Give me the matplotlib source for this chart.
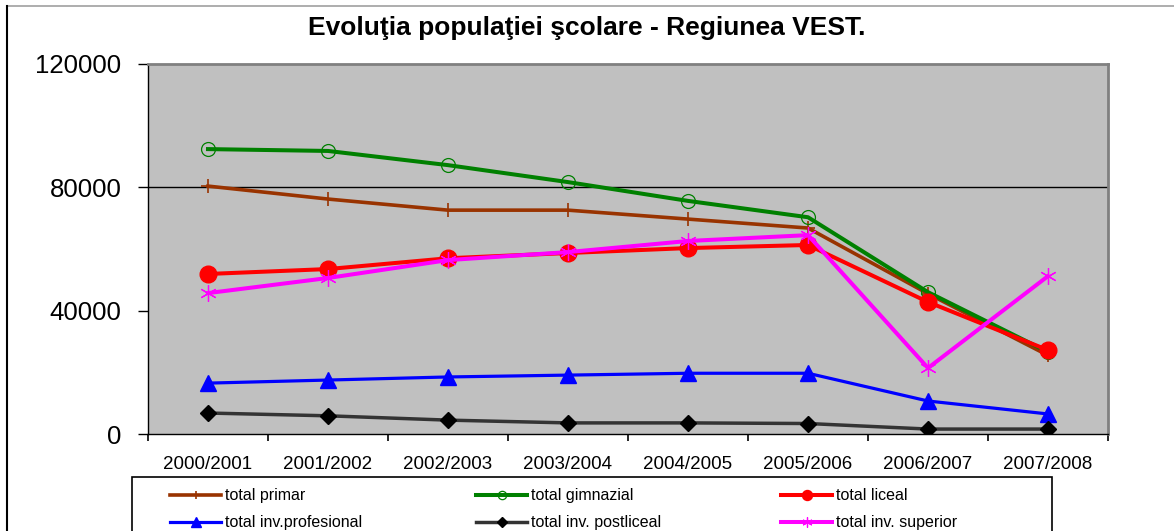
import matplotlib
matplotlib.use('Agg')
import matplotlib.pyplot as plt
from matplotlib.patches import Rectangle
from matplotlib.lines import Line2D
import numpy as np

plt.rcParams['font.family'] = ['Liberation Sans', 'DejaVu Sans']

# date
ani = ['2000/2001', '2001/2002', '2002/2003', '2003/2004',
       '2004/2005', '2005/2006', '2006/2007', '2007/2008']
primar = [80400, 76200, 72600, 72600, 69700, 66800, 45500, 25500]
gimnazial = [92400, 91800, 87200, 81700, 75600, 70300, 46000, 26600]
liceal = [51900, 53500, 57000, 58700, 60300, 61300, 42800, 27200]
profesional = [16500, 17500, 18500, 19100, 19700, 19700, 10700, 6500]
postliceal = [6800, 5900, 4500, 3600, 3600, 3400, 1600, 1600]
superior = [45700, 50600, 56400, 59000, 62600, 64500, 21400, 51200]
y_ticks = [0, 40000, 80000, 120000]

W, H = 1174, 531
fig = plt.figure(figsize=(W / 100, H / 100), dpi=100)
ax = fig.add_axes([148 / W, 1 - 434 / H, 960 / W, 370 / H])
ax.set_facecolor('#C0C0C0')

x = np.arange(len(ani))
l1, = ax.plot(x, primar, color='#993300', lw=2.6, marker='+', ms=10, mew=1.2, label='total primar')
l2, = ax.plot(x, gimnazial, color='#008000', lw=2.9, marker='o', ms=10, mfc='none', mew=0.9, label='total gimnazial')
l3, = ax.plot(x, liceal, color='#FF0000', lw=2.9, marker='o', ms=12, label='total liceal')
l4, = ax.plot(x, profesional, color='#0000FF', lw=2.3, marker='^', ms=11, label='total inv.profesional')
l5, = ax.plot(x, postliceal, color='#333333', lw=2.5, marker='D', ms=8, mfc='black', mec='black', label='total inv. postliceal')
l6, = ax.plot(x, superior, color='#FF00FF', lw=2.9, marker=(6, 2, 0), ms=12, mew=0.9, label='total inv. superior')

ax.axhline(80000, color='black', lw=1, zorder=1)

ax.set_xlim(-0.5, len(ani) - 0.5)
ax.set_ylim(0, 120000)
ax.set_yticks(y_ticks)
ax.set_yticklabels([str(v) for v in y_ticks], fontsize=18.5)
ax.tick_params(axis='y', length=7, width=1, pad=12)
ax.set_xticks(x)
ax.set_xticklabels(ani, fontsize=13.5)
ax.tick_params(axis='x', length=0, pad=16)
ax.set_xticks(np.arange(len(ani) + 1) - 0.5, minor=True)
ax.tick_params(axis='x', which='minor', length=5, width=1.2)

for s in ['left', 'bottom']:
    ax.spines[s].set_color('black')
    ax.spines[s].set_linewidth(1)
for s in ['top', 'right']:
    ax.spines[s].set_color('#808080')
    ax.spines[s].set_linewidth(2)

fig.text(587 / W, 1 - 28 / H, 'Evoluţia populaţiei şcolare - Regiunea VEST.',
         ha='center', va='center', fontsize=19, fontweight='bold')

# chenar exterior
fig.add_artist(Line2D([7 / W, 1], [1 - 6 / H, 1 - 6 / H], color='#A0A0A0', lw=1.2))
fig.add_artist(Line2D([7 / W, 7 / W], [0, 1 - 6 / H], color='black', lw=1.5))

# legenda - trei coloane
fig.add_artist(Rectangle((132 / W, -0.05), (1052 - 132) / W, 0.05 + 1 - 477 / H,
                         fill=False, edgecolor='black', lw=1.2))
cols = [([l1, l4], 159), ([l2, l5], 465), ([l3, l6], 770)]
for handles, xpos in cols:
    lg = fig.legend(handles=handles, loc='upper left', bbox_to_anchor=(xpos / W, 1 - 477 / H),
                    frameon=False, fontsize=11.5, handlelength=3.2, handletextpad=0.25,
                    labelspacing=0.75, borderpad=0.2, markerscale=0.6)

fig.savefig('out.png', dpi=100)
